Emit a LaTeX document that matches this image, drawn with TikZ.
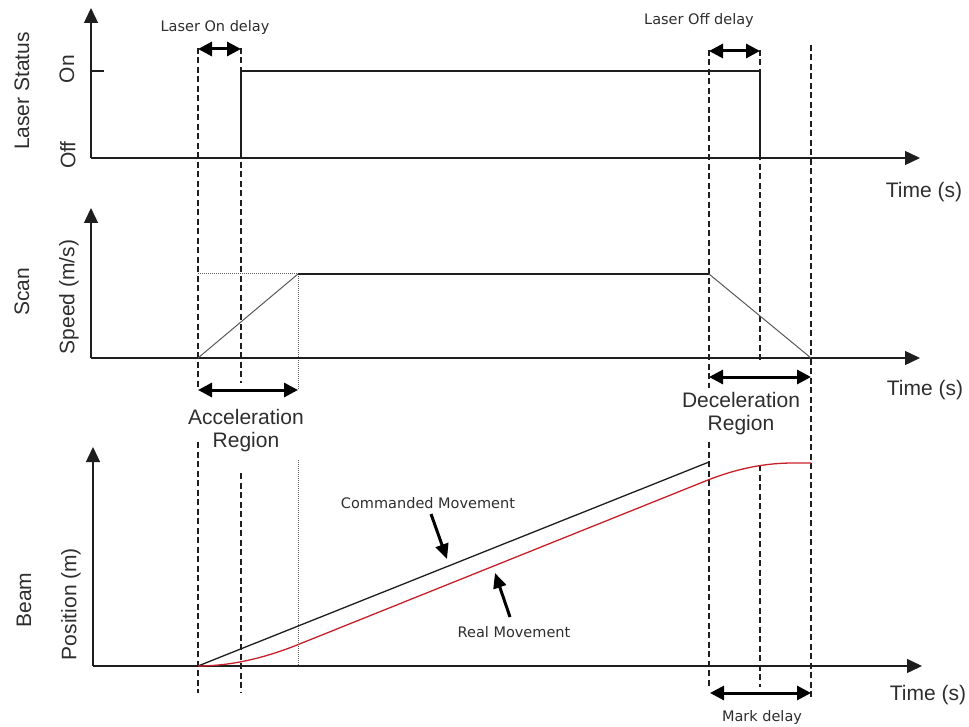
\documentclass[tikz,border=0pt]{standalone}
\usepackage{fontspec}
\setmainfont{Liberation Sans}
\newfontfamily\smallf{DejaVu Sans}
\usetikzlibrary{arrows.meta}
\definecolor{ink}{HTML}{1E1E1E}
\definecolor{txt}{HTML}{2E2E2E}
\definecolor{realred}{HTML}{C8202A}
\begin{document}
\begin{tikzpicture}[x=1pt,y=-1pt,
  axis/.style={line width=1.4pt, draw=ink, -{Triangle[length=15pt,width=14pt]}},
  dashv/.style={line width=1.1pt, draw=ink, dash pattern=on 6pt off 3.5pt},
  dotv/.style={line width=1pt, draw=gray!75!black, dash pattern=on 1pt off 1pt},
  sig/.style={line width=1.3pt, draw=ink},
  ramp/.style={line width=1pt, draw=gray!70!black},
  dimarrow/.style={line width=3pt, draw=black, {Triangle[length=14pt,width=14pt]}-{Triangle[length=14pt,width=14pt]}},
  ptr/.style={line width=3pt, draw=black, -{Triangle[length=15pt,width=13pt]}},
  big/.style={font=\fontsize{21}{23}\selectfont, text=txt, inner sep=0pt},
  small/.style={font=\smallf\fontsize{14.5}{17}\selectfont, text=txt, inner sep=0pt}
]
\path[fill=white] (0,0) rectangle (969,727);
\useasboundingbox (0,0) rectangle (969,727);

% ---------- coordinates ----------
% top panel
\coordinate (o1) at (91,158);
\coordinate (y1) at (91,8);
\coordinate (x1) at (920,158);
\coordinate (tick1a) at (91,71);
\coordinate (tick1b) at (104,71);
\coordinate (onrise0) at (241,158);
\coordinate (onrise1) at (241,71);
\coordinate (offfall1) at (760,71);
\coordinate (offfall0) at (760,158);
% middle panel
\coordinate (o2) at (91,358);
\coordinate (y2) at (91,208);
\coordinate (x2) at (920,358);
\coordinate (s0) at (198,358);
\coordinate (s1) at (298,274);
\coordinate (s2) at (709,274);
\coordinate (s3) at (811,358);
\coordinate (sd) at (198,274);
% bottom panel
\coordinate (o3) at (93,666);
\coordinate (y3) at (93,447);
\coordinate (x3) at (922,666);
\coordinate (c0) at (198,666);
\coordinate (c1) at (709,462);
\coordinate (r1) at (297,645);
\coordinate (r2) at (708,480);
\coordinate (r3) at (793,463);
\coordinate (r4) at (811,463);

% ---------- guide lines ----------
\draw[dashv] (198,48) -- (198,390);
\draw[dashv] (198,442) -- (198,693);
\draw[dashv] (241,48) -- (241,383);
\draw[dashv] (241,473) -- (241,693);
\draw[dotv] (s1) -- (298,390);
\draw[dotv] (298,460) -- (298,666);
\draw[dotv] (sd) -- (s1);
\draw[dashv] (709,50) -- (709,388);
\draw[dashv] (709,442) -- (709,687);
\draw[dashv] (760,50) -- (760,363);
\draw[dashv] (760,465) -- (760,687);
\draw[dashv] (811,45) -- (811,697);

% ---------- axes ----------
\draw[axis] (o1) -- (y1);
\draw[axis] (o1) -- (x1);
\draw[axis] (o2) -- (y2);
\draw[axis] (o2) -- (x2);
\draw[axis] (o3) -- (y3);
\draw[axis] (o3) -- (x3);
\draw[sig] (tick1a) -- (tick1b);

% ---------- signals ----------
\draw[sig] (onrise0) -- (onrise1) -- (offfall1) -- (offfall0);
\draw[ramp] (s0) -- (s1);
\draw[sig] (s1) -- (s2);
\draw[ramp] (s2) -- (s3);
\draw[sig] (c0) -- (c1);
\draw[line width=1.3pt, draw=realred]
  (c0) .. controls (229,666) and (262,659) .. (r1) -- (r2)
  .. controls (736,469) and (764,463) .. (r3) -- (r4);

% ---------- dimension arrows ----------
\draw[dimarrow] (198,49) -- (241,49);
\draw[dimarrow] (709,51) -- (760,51);
\draw[dimarrow] (198,390) -- (298,390);
\draw[dimarrow] (709,377) -- (811,377);
\draw[dimarrow] (710,693) -- (811,693);

% ---------- labels ----------
\node[small] (lon) at (215,28) {Laser On delay};
\node[small] (loff) at (699,21) {Laser Off delay};
\node[big, align=center, anchor=north] (acc) at (246,409) {Acceleration\\Region};
\node[big, align=center, anchor=north] (dec) at (741,392) {Deceleration\\Region};
\node[big, anchor=base] (t1) at (924,198) {Time (s)};
\node[big, anchor=base] (t2) at (925,395) {Time (s)};
\node[big, anchor=base] (t3) at (928,700) {Time (s)};

\node[big, rotate=90] (ls) at (22,91) {Laser Status};
\node[big, rotate=90] (lon2) at (67,69) {On};
\node[big, rotate=90] (loff2) at (68,155) {Off};
\node[big, rotate=90] (scan) at (22,292) {Scan};
\node[big, rotate=90] (spd) at (69,297) {Speed (m/s)};
\node[big, rotate=90] (beam) at (24,600) {Beam};
\node[big, rotate=90] (pos) at (71,604) {Position (m)};

\node[small] (cmd) at (428,503) {Commanded Movement};
\node[small] (real) at (514,632) {Real Movement};
\node[small] (mark) at (762,717) {Mark delay};

\coordinate (cmdtail) at (431,514);
\coordinate (cmdtip) at (447,559);
\coordinate (realtail) at (510,617);
\coordinate (realtip) at (495,573);
\draw[ptr] (cmdtail) -- (cmdtip);
\draw[ptr] (realtail) -- (realtip);
\end{tikzpicture}
\end{document}
